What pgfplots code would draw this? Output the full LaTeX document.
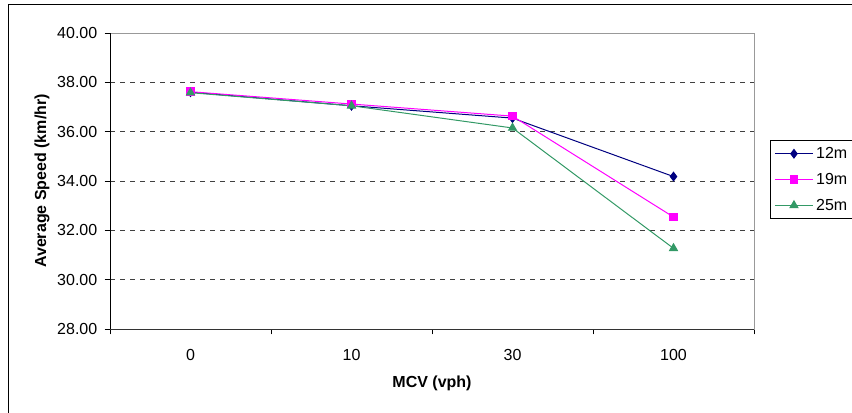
\documentclass[border=0pt]{standalone}
\usepackage{pgfplots}
\pgfplotsset{compat=1.18}
\usepackage{fontspec}
\setmainfont{Liberation Sans}
\definecolor{s1}{HTML}{000080}
\definecolor{s2}{HTML}{FF00FF}
\definecolor{s3}{HTML}{339966}
\begin{document}
\begin{tikzpicture}
\useasboundingbox (0pt,0pt) rectangle (639pt,309pt);
\draw[black, line width=0.75pt] (6pt,306pt) rectangle (650pt,-10pt);
\begin{axis}[
  name=ax,
  at={(82.5pt,62.25pt)}, anchor=south west,
  scale only axis, width=483pt, height=222pt,
  xmin=-0.5, xmax=3.5, ymin=28, ymax=40,
  xtick={0,1,2,3}, xticklabels={0,10,30,100},
  minor xtick={-0.5,0.5,1.5,2.5,3.5},
  ytick={28,30,...,40},
  tick align=outside,
  major tick length=4pt, minor tick length=4pt,
  x tick style={draw=none},
  minor x tick style={draw=black, line width=0.6pt},
  y tick style={draw=black, line width=0.6pt},
  xtick pos=bottom, ytick pos=left,
  ymajorgrids,
  grid style={black!75, dash pattern=on 3.75pt off 3.75pt, line width=0.6pt},
  axis line style={draw=gray!80, line width=0.75pt},
  /pgf/number format/assume math mode=true,
  y tick label style={/pgf/number format/fixed, /pgf/number format/precision=2, /pgf/number format/zerofill, xshift=-2pt},
  tick label style={font=\fontsize{12}{14}\selectfont},
  xticklabel style={yshift=-8pt},
  xlabel={\textbf{MCV (vph)}},
  ylabel={\textbf{Average Speed (km/hr)}},
  label style={font=\fontsize{12}{14}\selectfont},
  xlabel style={yshift=-4pt},
  ylabel style={yshift=-1pt},
  legend style={at={(1.0248,0.6385)}, anchor=north west, draw=black, line width=0.75pt,
    font=\fontsize{12}{14}\selectfont, row sep=5.5pt, inner sep=3pt,
    /tikz/every even column/.append style={column sep=2pt}},
  legend cell align=left,
  legend image code/.code={\draw[mark repeat=2, mark phase=2] plot coordinates {(0pt,0pt) (14.25pt,0pt) (28.5pt,0pt)};},
]
\addplot[s1, line width=0.75pt, mark=diamond*, mark size=3.2pt, mark options={solid, fill=s1}]
  coordinates {(0,37.60) (1,37.05) (2,36.55) (3,34.18)};
\addlegendentry{12m}
\addplot[s2, line width=0.75pt, mark=square*, mark size=2.8pt, mark options={solid, fill=s2}]
  coordinates {(0,37.62) (1,37.12) (2,36.63) (3,32.54)};
\addlegendentry{19m}
\addplot[s3, line width=0.75pt, mark=triangle*, mark size=3.4pt, mark options={solid, fill=s3}]
  coordinates {(0,37.58) (1,37.05) (2,36.15) (3,31.27)};
\addlegendentry{25m}
\end{axis}
\draw[black, line width=0.75pt] (ax.south west) -- (ax.north west);
\draw[black!80, line width=0.75pt] (ax.south west) -- (ax.south east);
\end{tikzpicture}
\end{document}
